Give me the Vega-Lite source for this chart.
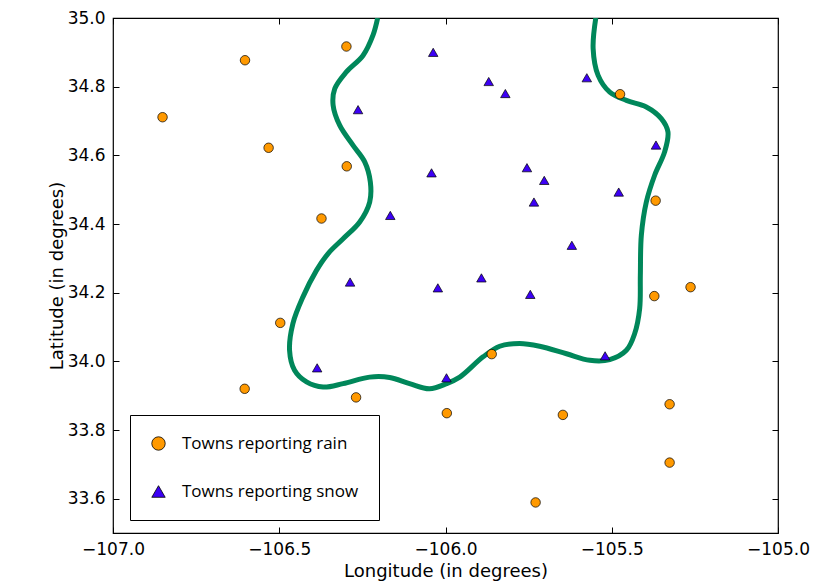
{
  "$schema": "https://vega.github.io/schema/vega-lite/v6.json",
  "autosize": "none",
  "width": 665,
  "height": 515,
  "padding": {"left": 113, "top": 18, "right": 39, "bottom": 52},
  "background": "white",
  "config": {
    "view": {"stroke": "black", "strokeWidth": 1.2},
    "axis": {
      "labelFont": "DejaVu Sans",
      "titleFont": "DejaVu Sans",
      "labelFontSize": 17,
      "titleFontSize": 18,
      "titleFontWeight": "normal",
      "labelColor": "black",
      "titleColor": "black",
      "grid": false,
      "domain": false,
      "tickColor": "black",
      "tickSize": -6,
      "labelPadding": 14,
      "labelFlush": false,
      "labelOverlap": false
    }
  },
  "resolve": {"axis": {"x": "independent", "y": "independent"}},
  "datasets": {
    "towns": [
      {"lon": -106.851, "lat": 34.711, "type": "Towns reporting rain"},
      {"lon": -106.603, "lat": 34.877, "type": "Towns reporting rain"},
      {"lon": -106.298, "lat": 34.917, "type": "Towns reporting rain"},
      {"lon": -106.532, "lat": 34.622, "type": "Towns reporting rain"},
      {"lon": -106.297, "lat": 34.568, "type": "Towns reporting rain"},
      {"lon": -106.373, "lat": 34.416, "type": "Towns reporting rain"},
      {"lon": -106.497, "lat": 34.112, "type": "Towns reporting rain"},
      {"lon": -106.604, "lat": 33.920, "type": "Towns reporting rain"},
      {"lon": -106.269, "lat": 33.895, "type": "Towns reporting rain"},
      {"lon": -105.861, "lat": 34.021, "type": "Towns reporting rain"},
      {"lon": -105.996, "lat": 33.849, "type": "Towns reporting rain"},
      {"lon": -105.647, "lat": 33.844, "type": "Towns reporting rain"},
      {"lon": -105.729, "lat": 33.589, "type": "Towns reporting rain"},
      {"lon": -105.326, "lat": 33.875, "type": "Towns reporting rain"},
      {"lon": -105.326, "lat": 33.705, "type": "Towns reporting rain"},
      {"lon": -105.372, "lat": 34.190, "type": "Towns reporting rain"},
      {"lon": -105.263, "lat": 34.216, "type": "Towns reporting rain"},
      {"lon": -105.475, "lat": 34.778, "type": "Towns reporting rain"},
      {"lon": -105.368, "lat": 34.468, "type": "Towns reporting rain"},
      {"lon": -106.037, "lat": 34.900, "type": "Towns reporting snow"},
      {"lon": -105.870, "lat": 34.815, "type": "Towns reporting snow"},
      {"lon": -105.820, "lat": 34.780, "type": "Towns reporting snow"},
      {"lon": -105.575, "lat": 34.826, "type": "Towns reporting snow"},
      {"lon": -105.367, "lat": 34.630, "type": "Towns reporting snow"},
      {"lon": -106.042, "lat": 34.549, "type": "Towns reporting snow"},
      {"lon": -105.755, "lat": 34.564, "type": "Towns reporting snow"},
      {"lon": -105.703, "lat": 34.527, "type": "Towns reporting snow"},
      {"lon": -105.734, "lat": 34.464, "type": "Towns reporting snow"},
      {"lon": -105.479, "lat": 34.493, "type": "Towns reporting snow"},
      {"lon": -105.620, "lat": 34.338, "type": "Towns reporting snow"},
      {"lon": -106.023, "lat": 34.214, "type": "Towns reporting snow"},
      {"lon": -105.892, "lat": 34.243, "type": "Towns reporting snow"},
      {"lon": -105.745, "lat": 34.195, "type": "Towns reporting snow"},
      {"lon": -106.263, "lat": 34.733, "type": "Towns reporting snow"},
      {"lon": -106.166, "lat": 34.425, "type": "Towns reporting snow"},
      {"lon": -106.287, "lat": 34.231, "type": "Towns reporting snow"},
      {"lon": -106.386, "lat": 33.981, "type": "Towns reporting snow"},
      {"lon": -105.997, "lat": 33.952, "type": "Towns reporting snow"},
      {"lon": -105.520, "lat": 34.016, "type": "Towns reporting snow"}
    ],
    "boundary": [
      {"i": 1, "lon": -106.204, "lat": 35.0},
      {"i": 2, "lon": -106.218, "lat": 34.950},
      {"i": 3, "lon": -106.248, "lat": 34.891},
      {"i": 4, "lon": -106.298, "lat": 34.843},
      {"i": 5, "lon": -106.333, "lat": 34.794},
      {"i": 6, "lon": -106.338, "lat": 34.746},
      {"i": 7, "lon": -106.318, "lat": 34.687},
      {"i": 8, "lon": -106.278, "lat": 34.629},
      {"i": 9, "lon": -106.243, "lat": 34.581},
      {"i": 10, "lon": -106.226, "lat": 34.522},
      {"i": 11, "lon": -106.228, "lat": 34.464},
      {"i": 12, "lon": -106.258, "lat": 34.406},
      {"i": 13, "lon": -106.308, "lat": 34.357},
      {"i": 14, "lon": -106.353, "lat": 34.314},
      {"i": 15, "lon": -106.388, "lat": 34.265},
      {"i": 16, "lon": -106.429, "lat": 34.187},
      {"i": 17, "lon": -106.459, "lat": 34.110},
      {"i": 18, "lon": -106.469, "lat": 34.032},
      {"i": 19, "lon": -106.454, "lat": 33.974},
      {"i": 20, "lon": -106.418, "lat": 33.940},
      {"i": 21, "lon": -106.368, "lat": 33.925},
      {"i": 22, "lon": -106.308, "lat": 33.935},
      {"i": 23, "lon": -106.228, "lat": 33.954},
      {"i": 24, "lon": -106.168, "lat": 33.953},
      {"i": 25, "lon": -106.108, "lat": 33.935},
      {"i": 26, "lon": -106.048, "lat": 33.920},
      {"i": 27, "lon": -105.997, "lat": 33.935},
      {"i": 28, "lon": -105.957, "lat": 33.954},
      {"i": 29, "lon": -105.887, "lat": 34.013},
      {"i": 30, "lon": -105.837, "lat": 34.044},
      {"i": 31, "lon": -105.777, "lat": 34.052},
      {"i": 32, "lon": -105.717, "lat": 34.044},
      {"i": 33, "lon": -105.636, "lat": 34.022},
      {"i": 34, "lon": -105.566, "lat": 34.003},
      {"i": 35, "lon": -105.506, "lat": 34.005},
      {"i": 36, "lon": -105.456, "lat": 34.032},
      {"i": 37, "lon": -105.431, "lat": 34.081},
      {"i": 38, "lon": -105.416, "lat": 34.154},
      {"i": 39, "lon": -105.414, "lat": 34.251},
      {"i": 40, "lon": -105.411, "lat": 34.367},
      {"i": 41, "lon": -105.396, "lat": 34.464},
      {"i": 42, "lon": -105.371, "lat": 34.542},
      {"i": 43, "lon": -105.341, "lat": 34.610},
      {"i": 44, "lon": -105.331, "lat": 34.668},
      {"i": 45, "lon": -105.351, "lat": 34.707},
      {"i": 46, "lon": -105.396, "lat": 34.741},
      {"i": 47, "lon": -105.456, "lat": 34.760},
      {"i": 48, "lon": -105.506, "lat": 34.784},
      {"i": 49, "lon": -105.541, "lat": 34.833},
      {"i": 50, "lon": -105.556, "lat": 34.911},
      {"i": 51, "lon": -105.548, "lat": 35.0}
    ]
  },
  "layer": [
    {
      "data": {"name": "boundary"},
      "mark": {"type": "line", "color": "#00875a", "strokeWidth": 5, "interpolate": "catmull-rom", "clip": true},
      "encoding": {
        "x": {
          "field": "lon", "type": "quantitative",
          "axis": {"orient": "top", "values": [-107, -106.5, -106, -105.5, -105], "labels": false, "title": null}
        },
        "y": {
          "field": "lat", "type": "quantitative",
          "axis": {"orient": "right", "values": [33.6, 33.8, 34.0, 34.2, 34.4, 34.6, 34.8, 35.0], "labels": false, "title": null}
        },
        "order": {"field": "i"}
      }
    },
    {
      "data": {"name": "towns"},
      "mark": {"type": "point", "filled": true, "stroke": "black", "strokeWidth": 0.7, "opacity": 1, "size": 90},
      "encoding": {
        "x": {
          "field": "lon", "type": "quantitative",
          "scale": {"domain": [-107, -105], "nice": false, "zero": false},
          "axis": {"orient": "bottom", "values": [-107, -106.5, -106, -105.5, -105], "format": ".1f", "title": "Longitude (in degrees)", "titlePadding": 5}
        },
        "y": {
          "field": "lat", "type": "quantitative",
          "scale": {"domain": [33.5, 35.0], "nice": false, "zero": false},
          "axis": {"orient": "left", "values": [33.6, 33.8, 34.0, 34.2, 34.4, 34.6, 34.8, 35.0], "format": ".1f", "title": "Latitude (in degrees)", "titlePadding": 1}
        },
        "color": {
          "field": "type", "type": "nominal",
          "scale": {"domain": ["Towns reporting rain", "Towns reporting snow"], "range": ["#ff9900", "#3c00f5"]},
          "legend": {
            "title": null, "orient": "none", "legendX": 17, "legendY": 397,
            "fillColor": "white", "strokeColor": "black",
            "padding": 20, "rowPadding": 30, "symbolSize": 180,
            "symbolStrokeColor": "black", "symbolStrokeWidth": 0.8,
            "labelFont": "Open Sans", "labelFontSize": 17, "labelColor": "black", "labelOffset": 15, "labelLimit": 400,
            "encode": {"legend": {"update": {"strokeWidth": {"value": 1.5}}}}
          }
        },
        "shape": {
          "field": "type", "type": "nominal",
          "scale": {"domain": ["Towns reporting rain", "Towns reporting snow"], "range": ["circle", "triangle-up"]},
          "legend": {
            "title": null, "orient": "none", "legendX": 17, "legendY": 397,
            "fillColor": "white", "strokeColor": "black",
            "padding": 20, "rowPadding": 30, "symbolSize": 180,
            "symbolStrokeColor": "black", "symbolStrokeWidth": 0.8,
            "labelFont": "Open Sans", "labelFontSize": 17, "labelColor": "black", "labelOffset": 15, "labelLimit": 400,
            "encode": {"legend": {"update": {"strokeWidth": {"value": 1.5}}}}
          }
        }
      }
    }
  ]
}
